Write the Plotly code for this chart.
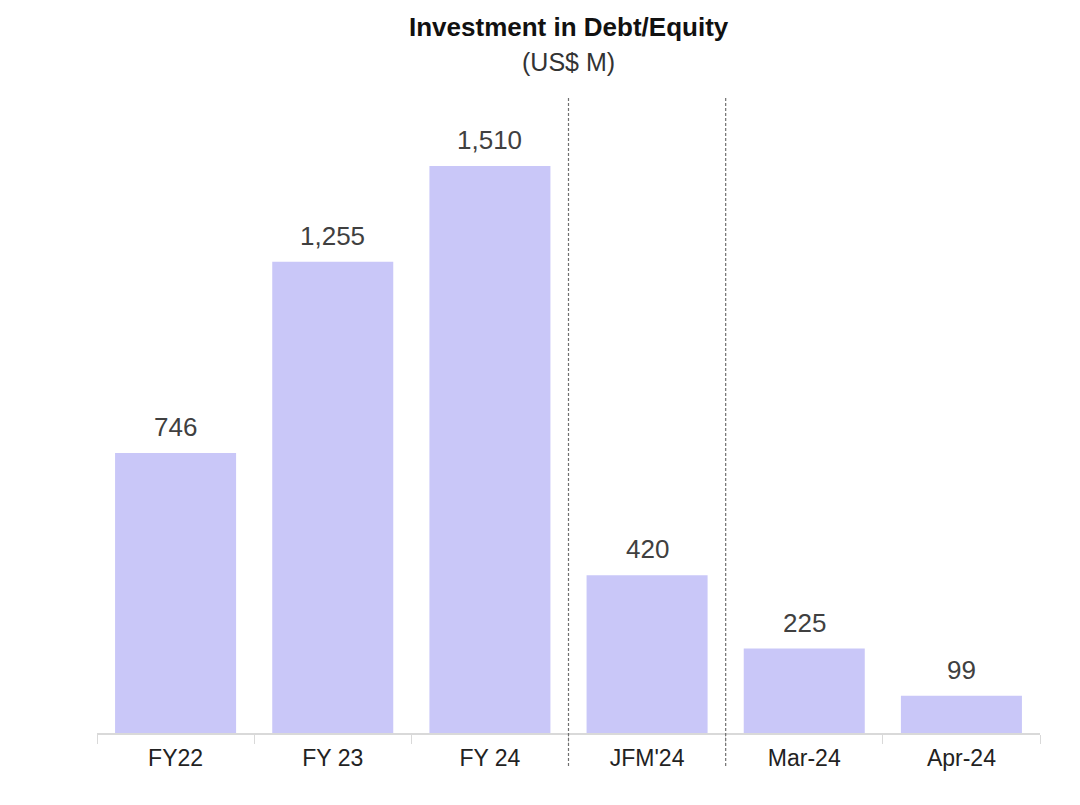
import plotly.graph_objects as go

categories = ["FY22", "FY 23", "FY 24", "JFM'24", "Mar-24", "Apr-24"]
values = [746, 1255, 1510, 420, 225, 99]
labels = ["746", "1,255", "1,510", "420", "225", "99"]

bar_color = "#C9C7F8"
FONT = "Liberation Sans, Arial"

fig = go.Figure()
fig.add_trace(go.Bar(
    x=categories, y=values, marker_color=bar_color, marker_line_width=0,
    width=0.77, hoverinfo="skip",
))

for c, v, t in zip(categories, values, labels):
    fig.add_annotation(x=c, y=v, text=t, showarrow=False, yanchor="bottom",
                       yshift=9, font=dict(family=FONT, size=26, color="#404040"))

# dashed separators between groups (at category boundaries)
for xb in [2.5, 3.5]:
    fig.add_shape(type="line", xref="x", yref="paper", x0=xb, x1=xb, y0=-0.052, y1=1.0,
                  line=dict(color="#707070", width=1.2, dash="3px,2px"))

# title and subtitle
fig.add_annotation(xref="paper", yref="paper", x=0.5, y=1.0, yshift=70,
                   text="<b>Investment in Debt/Equity</b>", showarrow=False,
                   xanchor="center", yanchor="middle",
                   font=dict(family=FONT, size=26, color="#111"))
fig.add_annotation(xref="paper", yref="paper", x=0.5, y=1.0, yshift=35,
                   text="(US$ M)", showarrow=False,
                   xanchor="center", yanchor="middle",
                   font=dict(family=FONT, size=25, color="#333"))

fig.update_layout(
    width=1080, height=805,
    margin=dict(l=97, r=40, t=97, b=72),
    paper_bgcolor="white", plot_bgcolor="white",
    showlegend=False,
    xaxis=dict(
        showline=True, linecolor="#D9D9D9", linewidth=1.5,
        ticks="outside", tickson="boundaries", ticklen=9, tickcolor="#D9D9D9",
        tickfont=dict(family=FONT, size=23, color="#222"),
        ticklabelstandoff=4,
        range=[-0.5, 5.5],
    ),
    yaxis=dict(visible=False, range=[0, 1694], showgrid=False, zeroline=False),
    bargap=0.23,
)

fig.write_html("out.html")
